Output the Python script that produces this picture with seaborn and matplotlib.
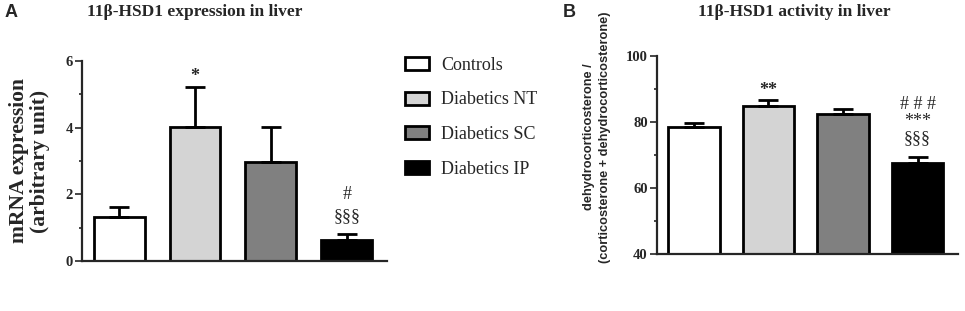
import numpy as np
import pandas as pd
import seaborn as sns
import matplotlib.pyplot as plt
from matplotlib.patches import Patch
from matplotlib.ticker import MultipleLocator

## Data
groups = ['Controls', 'Diabetics NT', 'Diabetics SC', 'Diabetics IP']
bar_colors = ['#ffffff', '#d4d4d4', '#808080', '#000000']

expr_mean = [1.32, 4.02, 2.97, 0.64]
expr_sem = [0.31, 1.19, 1.05, 0.18]
expr_marks = ['', '*', '', '#\n§§§']

act_mean = [78.4, 84.8, 82.4, 67.5]
act_sem = [1.2, 1.9, 1.5, 2.0]
act_marks = ['', '**', '', '# # #\n***\n§§§']

sns.set_style('ticks')
plt.rcParams['font.family'] = ['Liberation Serif', 'DejaVu Serif']

fig = plt.figure(figsize=(9.65, 3.11), dpi=100)
axA = fig.add_axes([0.085, 0.161, 0.316, 0.643])
axB = fig.add_axes([0.6805, 0.183, 0.312, 0.638])


def draw_panel(ax, means, sems, width):
    df = pd.DataFrame({'group': groups, 'value': means})
    sns.barplot(data=df, x='group', y='value', hue='group', palette=bar_colors,
                width=width, edgecolor='black', linewidth=2, errorbar=None,
                legend=False, ax=ax)
    ax.errorbar(np.arange(len(groups)), means,
                yerr=[np.zeros(len(sems)), sems], fmt='none',
                ecolor='black', elinewidth=2, capsize=7, capthick=2, zorder=1)
    sns.despine(ax=ax)
    for s in ['left', 'bottom']:
        ax.spines[s].set_linewidth(1.6)
    ax.set_xticks([])
    ax.set_xlabel('')
    ax.tick_params(axis='y', which='major', length=5, width=1.2,
                   labelsize=10.5, pad=1.5)
    ax.tick_params(axis='y', which='minor', length=2.5, width=1.2)


def add_marks(ax, means, sems, marks, single_dy, stack_dy, spacing):
    for i, m in enumerate(marks):
        if not m:
            continue
        if '\n' in m:
            dy, weight = stack_dy, 'normal'
        else:
            dy, weight = single_dy, 'bold'
        ax.annotate(m, (i, means[i] + sems[i]), xytext=(0, dy),
                    textcoords='offset pixels', ha='center', va='center',
                    fontsize=13, fontweight=weight, linespacing=spacing)


# panel A
draw_panel(axA, expr_mean, expr_sem, 0.67)
axA.set_ylim(0, 6)
axA.set_xlim(-0.49, 3.53)
axA.yaxis.set_major_locator(MultipleLocator(2))
axA.yaxis.set_minor_locator(MultipleLocator(1))
for lab in axA.get_yticklabels():
    lab.set_fontweight('bold')
axA.set_ylabel('mRNA expression\n(arbitrary unit)', fontsize=15.5,
               fontweight='bold', linespacing=1.1)
axA.yaxis.set_label_coords(-0.105, 0.5)
add_marks(axA, expr_mean, expr_sem, expr_marks, 11, 28, 1.33)

# panel B
draw_panel(axB, act_mean, act_sem, 0.69)
axB.set_ylim(40, 100)
axB.set_xlim(-0.5, 3.54)
axB.yaxis.set_major_locator(MultipleLocator(20))
axB.yaxis.set_minor_locator(MultipleLocator(10))
for lab in axB.get_yticklabels():
    lab.set_fontweight('bold')
axB.set_ylabel('dehydrocorticosterone /\n(corticosterone + dehydrocorticosterone)',
               fontsize=9.2, fontweight='bold', family='Liberation Sans',
               linespacing=1.4)
axB.yaxis.set_label_coords(-0.153, 0.59)
add_marks(axB, act_mean, act_sem, act_marks, 9, 35, 0.97)

# titles and panel letters
fig.text(0.202, 0.961, '11β-HSD1 expression in liver', fontsize=12.5,
         fontweight='bold', ha='center', va='center')
fig.text(0.823, 0.961, '11β-HSD1 activity in liver', fontsize=12.5,
         fontweight='bold', ha='center', va='center')
fig.text(0.005, 0.961, 'A', fontsize=13, fontweight='bold',
         family='Liberation Sans', va='center')
fig.text(0.583, 0.961, 'B', fontsize=13, fontweight='bold',
         family='Liberation Sans', va='center')

# legend
handles = [Patch(facecolor=c, edgecolor='black', linewidth=2) for c in bar_colors]
fig.legend(handles, groups, loc='upper left', bbox_to_anchor=(0.412, 0.84),
           frameon=False, fontsize=13, handlelength=1.35, handleheight=0.75,
           handletextpad=0.65, labelspacing=0.97, borderaxespad=0)

fig.savefig('out.png', dpi=100)
